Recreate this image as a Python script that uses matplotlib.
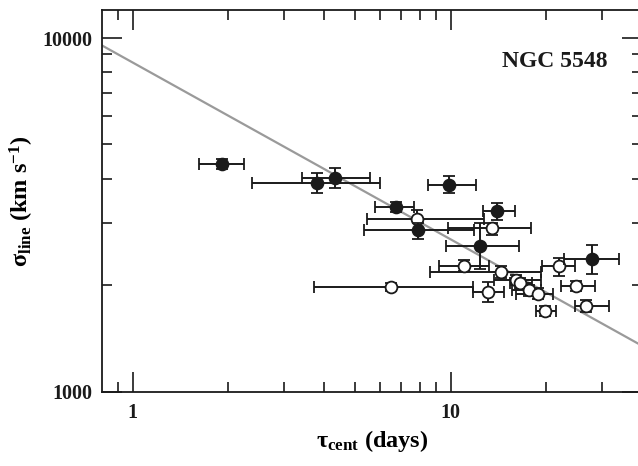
import numpy as np
import matplotlib
matplotlib.use("Agg")
import matplotlib.pyplot as plt
from matplotlib.ticker import FixedLocator, NullFormatter, FixedFormatter

# ---- data ----
filled_tau = [1.91, 3.81, 4.32, 6.72, 9.88, 13.98, 7.88, 12.38, 27.76]
filled_tau_lo = [1.62, 2.37, 3.42, 5.80, 8.51, 12.66, 5.35, 9.71, 22.70]
filled_tau_hi = [2.24, 5.98, 5.58, 7.69, 11.99, 15.95, 11.84, 16.36, 33.85]
filled_sig = [4394, 3902, 4013, 3338, 3843, 3246, 2857, 2575, 2371]
filled_sig_lo = [4254, 3656, 3776, 3218, 3640, 3062, 2701, 2223, 2151]
filled_sig_hi = [4549, 4164, 4281, 3448, 4074, 3411, 3008, 3008, 2591]

open_tau = [7.84, 13.51, 11.05, 14.37, 6.51, 13.08, 21.87, 24.88, 26.68, 19.81, 16.03, 16.56, 17.71, 18.89]
open_tau_lo = [5.47, 9.83, 9.19, 8.64, 3.71, 11.79, 19.36, 22.20, 24.64, 18.51, 13.7, 15.4, 15.6, 16.1]
open_tau_hi = [12.76, 17.93, 13.18, 19.32, 11.8, 14.74, 24.64, 28.47, 31.43, 21.49, 19.3, 18.1, 19.25, 21.0]
open_sig = [3082, 2901, 2271, 2175, 1978, 1918, 2261, 1990, 1744, 1692, 2073, 2029, 1935, 1894]
open_sig_lo = [2870, 2777, 2189, 2096, 1922, 1794, 2128, 1931, 1678, 1634, 2000, 1960, 1870, 1830]
open_sig_hi = [3267, 3008, 2361, 2261, 2029, 2038, 2387, 2051, 1814, 1744, 2140, 2100, 2000, 1960]

fit_norm = 8530.0     # sigma at tau = 1 day
fit_slope = -0.5

x_major = [1, 10]
x_major_labels = ["1", "10"]
x_minor = [0.9, 2, 3, 4, 5, 6, 7, 8, 9, 20, 30, 40]
y_major = [1000, 10000]
y_major_labels = ["1000", "10000"]
y_minor = [2000, 3000, 4000, 5000, 6000, 7000, 8000, 9000]

title_text = "NGC 5548"

# ---- style ----
plt.rcParams.update({
    "font.family": ["Liberation Serif", "DejaVu Serif"],
    "font.weight": "bold",
    "mathtext.fontset": "custom",
    "mathtext.rm": "Liberation Serif:bold",
    "mathtext.it": "Liberation Serif:bold",
    "mathtext.bf": "Liberation Serif:bold",
    "mathtext.default": "rm",
})

ink = "#1a1a1a"
W, H = 638, 466
fig = plt.figure(figsize=(W / 100, H / 100), dpi=100)
left_px, right_px, top_px, bot_px = 101.7, 642.0, 10.0, 391.7
ax = fig.add_axes([left_px / W, 1 - bot_px / H, (right_px - left_px) / W, (bot_px - top_px) / H])
ax.set_xscale("log")
ax.set_yscale("log")
ax.set_xlim(0.8, 40)
ax.set_ylim(1000, 12000)

# fit line
xx = np.logspace(np.log10(0.8), np.log10(40), 200)
ax.plot(xx, fit_norm * xx ** fit_slope, color="#9a9a9a", lw=1.6, zorder=1)

def err(v, lo, hi):
    v = np.asarray(v, float)
    return np.vstack([v - np.asarray(lo, float), np.asarray(hi, float) - v])

ax.errorbar(open_tau, open_sig,
            xerr=err(open_tau, open_tau_lo, open_tau_hi),
            yerr=err(open_sig, open_sig_lo, open_sig_hi),
            fmt="o", ms=8.5, mfc="white", mec=ink, mew=1.3,
            ecolor=ink, elinewidth=1.4, capsize=4.3, capthick=1.4, zorder=3)
ax.errorbar(filled_tau, filled_sig,
            xerr=err(filled_tau, filled_tau_lo, filled_tau_hi),
            yerr=err(filled_sig, filled_sig_lo, filled_sig_hi),
            fmt="o", ms=8.5, mfc=ink, mec=ink, mew=1.3,
            ecolor=ink, elinewidth=1.4, capsize=4.3, capthick=1.4, zorder=4)

# ticks
ax.xaxis.set_major_locator(FixedLocator(x_major))
ax.xaxis.set_major_formatter(FixedFormatter(x_major_labels))
ax.xaxis.set_minor_locator(FixedLocator(x_minor))
ax.xaxis.set_minor_formatter(NullFormatter())
ax.yaxis.set_major_locator(FixedLocator(y_major))
ax.yaxis.set_major_formatter(FixedFormatter(y_major_labels))
ax.yaxis.set_minor_locator(FixedLocator(y_minor))
ax.yaxis.set_minor_formatter(NullFormatter())

ax.tick_params(which="both", direction="in", top=True, right=True, colors=ink, width=1.2)
ax.tick_params(which="major", length=14.4, labelsize=14.5)
ax.tick_params(which="minor", length=7.2)
ax.tick_params(axis="x", which="major", pad=8)
ax.tick_params(axis="y", which="major", pad=7)
for lab in ax.get_xticklabels() + ax.get_yticklabels():
    lab.set_fontweight("bold")
for s in ax.spines.values():
    s.set_linewidth(1.3)
    s.set_color(ink)

ax.set_xlabel("τ$_{\\rm cent}$ (days)", fontsize=17.5, fontweight="bold", labelpad=4)
ax.set_ylabel("σ$_{\\rm line}$ (km s$^{-1}$)", fontsize=17.5, fontweight="bold", labelpad=4)

fig.text(607 / W, 1 - 66.7 / H, title_text, fontsize=17, fontweight="bold",
         ha="right", va="baseline", color=ink)

fig.savefig("out.png", dpi=100)
